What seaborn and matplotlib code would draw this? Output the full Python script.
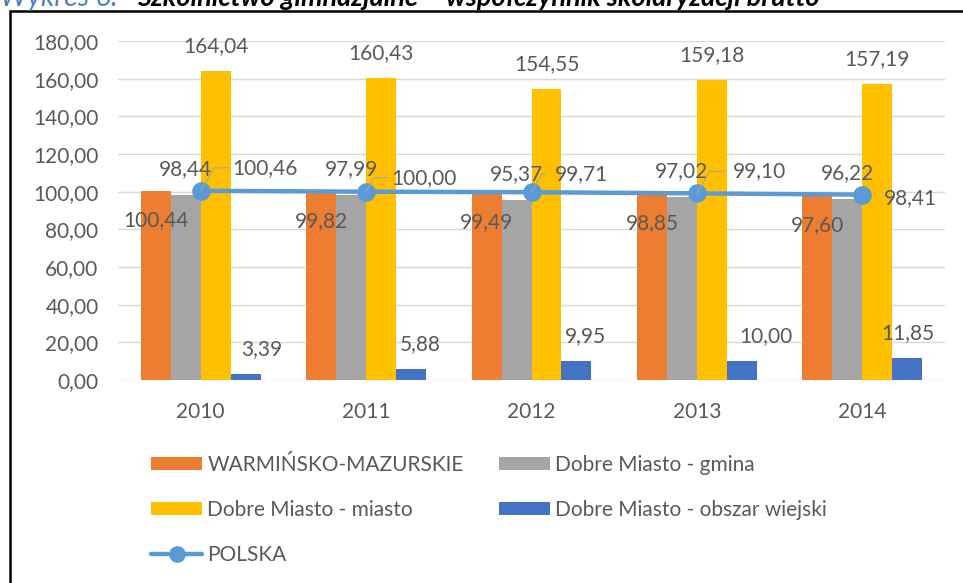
import matplotlib
matplotlib.use("Agg")
import matplotlib.pyplot as plt
import seaborn as sns
import pandas as pd
import numpy as np
from matplotlib.patches import Rectangle, Patch
from matplotlib.lines import Line2D

years = ["2010", "2011", "2012", "2013", "2014"]
warminsko = [100.44, 99.82, 99.49, 98.85, 97.60]
gmina = [98.44, 97.99, 95.37, 97.02, 96.22]
miasto = [164.04, 160.43, 154.55, 159.18, 157.19]
wiejski = [3.39, 5.88, 9.95, 10.00, 11.85]
polska = [100.46, 100.00, 99.71, 99.10, 98.41]

series_names = ["WARMIŃSKO-MAZURSKIE", "Dobre Miasto - gmina",
                "Dobre Miasto - miasto", "Dobre Miasto - obszar wiejski"]
line_name = "POLSKA"
colors = ["#ED7D31", "#A5A5A5", "#FFC000", "#4472C4"]
line_color = "#5B9BD5"
yticks = [0, 20, 40, 60, 80, 100, 120, 140, 160, 180]
title_a = "Wykres 6."
title_b = "Szkolnictwo gimnazjalne – współczynnik skolaryzacji brutto"

sns.set_theme(style="white")
plt.rcParams["font.family"] = ["Lato", "DejaVu Sans"]
TXT = "#595959"
FS = 15

df = pd.DataFrame({
    "year": years * 4,
    "value": warminsko + gmina + miasto + wiejski,
    "series": sum([[n] * 5 for n in series_names], []),
})

W, H = 963, 583
fig = plt.figure(figsize=(W / 100, H / 100), dpi=100)
ax = fig.add_axes([118 / W, 1 - 380 / H, (945 - 118) / W, (380 - 41) / H])

sns.barplot(data=df, x="year", y="value", hue="series", order=years,
            hue_order=series_names, palette=colors, width=0.725,
            saturation=1, errorbar=None, ax=ax, legend=False, linewidth=0)
sns.pointplot(x=years, y=polska, order=years, color=line_color, ax=ax,
              markers="o", markersize=11, linewidth=3.2, errorbar=None)

ax.set_xlim(-0.5, 4.5)
ax.set_ylim(0, 180)
ax.set_yticks(yticks)
ax.set_yticklabels([f"{v:.2f}".replace(".", ",") for v in yticks],
                   color=TXT, fontsize=FS)
ax.set_xticks(range(len(years)))
ax.set_xticklabels(years, color=TXT, fontsize=FS)
ax.tick_params(axis="x", length=0, pad=16)
ax.tick_params(axis="y", length=0, pad=14)
ax.set_xlabel("")
ax.set_ylabel("")
for s in ax.spines.values():
    s.set_visible(False)
ax.grid(axis="y", color="#D9D9D9", lw=1)
ax.set_axisbelow(True)

def fmt(v):
    return f"{v:.2f}".replace(".", ",")

# bar labels
offsets_y = [-29, 26, 25, 25]
offsets_x = [[0] * 5, [0] * 5, [0] * 5, [16, 9, 9, 24, 1]]
vals = [warminsko, gmina, miasto, wiejski]
for k, cont in enumerate(ax.containers[:4]):
    for i, p in enumerate(cont.patches):
        xc = p.get_x() + p.get_width() / 2
        ax.annotate(fmt(vals[k][i]), (xc, p.get_height()),
                    xytext=(offsets_x[k][i], offsets_y[k]),
                    textcoords="offset pixels", ha="center", va="center",
                    color=TXT, fontsize=FS)

# POLSKA labels with leader lines
pl_off = [(64, 23), (58, 14), (50, 18), (63, 22), (48, -3)]
for i, v in enumerate(polska):
    dx, dy = pl_off[i]
    ax.annotate(fmt(v), (i, v), xytext=(dx, dy), textcoords="offset pixels",
                ha="center", va="center", color=TXT, fontsize=FS)
    if i < 4:
        ax.annotate("", (i, v), xytext=(dx - 36, dy), textcoords="offset pixels",
                    arrowprops=dict(arrowstyle="-", color="#A6A6A6", lw=0.8,
                                    shrinkA=0, shrinkB=0,
                                    connectionstyle="angle,angleA=0,angleB=60"))

# legends
h_bars = [Patch(facecolor=c, edgecolor="none") for c in colors]
h_line = Line2D([], [], color=line_color, lw=3.2, marker="o", markersize=11)
leg_kw = dict(frameon=False, fontsize=FS, handlelength=2.45, handleheight=0.62,
              handletextpad=0.25, labelspacing=1.2, borderaxespad=0,
              borderpad=0, labelcolor=TXT)
leg1 = fig.legend([h_bars[0], h_bars[2], h_line],
                  [series_names[0], series_names[2], line_name],
                  loc="upper left", bbox_to_anchor=(151 / W, 1 - 455 / H), **leg_kw)
leg2 = fig.legend([h_bars[1], h_bars[3]], [series_names[1], series_names[3]],
                  loc="upper left", bbox_to_anchor=(499 / W, 1 - 455 / H), **leg_kw)

# outer frame (extends beyond right/bottom edge)
fig.add_artist(Rectangle((10 / W, -0.1), 1.2, 1 - 11 / H + 0.1,
                         transform=fig.transFigure, fill=False,
                         edgecolor="#000000", lw=1.8, clip_on=False))

# title, clipped at the top edge as in the original
fig.text(0.0, 1 - 6 / H, title_a, color="#4F81BD", fontsize=20.5,
         style="italic", va="baseline", ha="left")
fig.text(137 / W, 1 - 6 / H, title_b, color="#000000", fontsize=19.5,
         style="italic", weight="bold", va="baseline", ha="left")

fig.savefig("out.png", dpi=100)
